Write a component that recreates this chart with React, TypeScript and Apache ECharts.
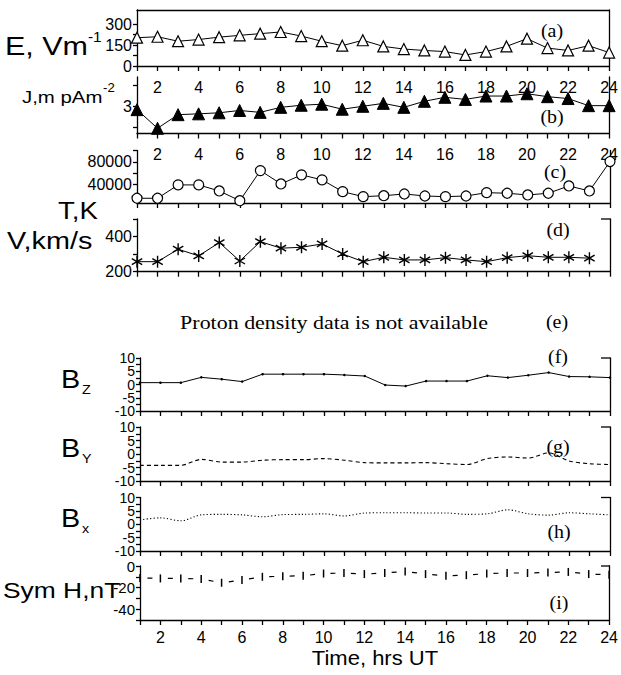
import React, { useEffect, useRef } from "react";
import * as echarts from "echarts";

// ---------- data ----------
const HOURS = [1, 2, 3, 4, 5, 6, 7, 8, 9, 10, 11, 12, 13, 14, 15, 16, 17, 18, 19, 20, 21, 22, 23, 24];
const HOUR_LABELS = [2, 4, 6, 8, 10, 12, 14, 16, 18, 20, 22, 24];

const E_VALUES = [202, 209, 177, 189, 206, 219, 231, 243, 214, 177, 145, 184, 140, 121, 111, 103, 79, 103, 140, 195, 128, 111, 145, 96];
const J_VALUES = [2.84, 1.95, 2.6, 2.64, 2.69, 2.8, 2.71, 2.95, 3.05, 3.1, 2.86, 3.0, 3.14, 2.95, 3.24, 3.43, 3.33, 3.49, 3.49, 3.6, 3.46, 3.37, 3.03, 3.03];
const T_VALUES = [16300, 16300, 39700, 39700, 29100, 12050, 64800, 41400, 57300, 48500, 27900, 19100, 20800, 23800, 20300, 19100, 20300, 26100, 25100, 22100, 25100, 37900, 29100, 80650];
const V_VALUES = [257, 257, 328, 290, 366, 261, 371, 334, 339, 358, 301, 257, 282, 267, 267, 280, 267, 257, 280, 291, 282, 282, 277];
const BZ_VALUES = [0.7, 0.7, 0.7, 2.7, 2.0, 1.1, 3.9, 3.9, 3.9, 3.9, 3.6, 3.2, -0.2, -0.6, 1.3, 1.3, 1.3, 3.3, 2.6, 3.5, 4.5, 3.0, 2.9, 2.6];
const BY_VALUES = [-4.2, -4.2, -4.2, -2.0, -3.0, -3.0, -2.3, -2.1, -2.1, -1.7, -2.3, -3.2, -3.3, -3.3, -3.2, -3.6, -3.9, -1.7, -1.1, -1.5, 0.4, -2.6, -3.6, -3.9];
const BX_VALUES = [1.6, 2.4, 1.3, 3.5, 3.7, 3.5, 2.8, 3.6, 3.7, 3.9, 3.1, 4.2, 4.3, 4.3, 4.2, 4.2, 3.7, 3.9, 5.4, 3.9, 3.4, 4.3, 3.9, 3.5];
const SYMH_VALUES = [-11, -11.5, -11.5, -12, -15.5, -13, -10, -9.5, -9, -7, -6.5, -7.5, -6.5, -5, -7.5, -9, -8.5, -7, -6.5, -6.5, -6, -5.5, -7.5, -8];

// tick marks and tick labels
const E_TICKS = [0, 75, 150, 225, 300];
const E_LABELS = [0, 150, 300];
const J_TICKS = [2, 3, 4];
const J_LABELS = [3];
const T_TICKS = [20000, 40000, 60000, 80000, 100000];
const T_LABELS = [40000, 80000];
const V_TICKS = [200, 300, 400, 500];
const V_LABELS = [200, 400];
const B_TICKS = [-10, -7.5, -5, -2.5, 0, 2.5, 5, 7.5, 10];
const B_LABELS = [-10, 0, 10];
const B_LABELS_MID = [-5, 5];
const SYM_TICKS = [0, -10, -20, -30, -40, -50];
const SYM_LABELS = [0, -20, -40];

// ---------- styling ----------
const BLACK = "#000";
const SANS = '"Liberation Sans", Arial, sans-serif';
const SERIF = '"Liberation Serif", "Times New Roman", serif';
const RIGHT = 11;

type Panel = {
  left: number; top: number; height: number; min: number; max: number;
  ticks: number[]; labels: number[]; extraLabels: number[] | null; xLabels: boolean; xMargin: number;
  topLine: boolean; hook: boolean; labelSize: number;
};

const PANELS: Panel[] = [
  { left: 137, top: 10, height: 56, min: 0, max: 400, ticks: E_TICKS, labels: E_LABELS, extraLabels: null, xLabels: true, xMargin: 13, topLine: true, hook: false, labelSize: 16 },
  { left: 137, top: 77, height: 56.5, min: 1.7, max: 4.4, ticks: J_TICKS, labels: J_LABELS, extraLabels: null, xLabels: true, xMargin: 13, topLine: false, hook: false, labelSize: 16 },
  { left: 137, top: 150.5, height: 52.5, min: 8000, max: 100000, ticks: T_TICKS, labels: T_LABELS, extraLabels: null, xLabels: false, xMargin: 10, topLine: false, hook: false, labelSize: 16 },
  { left: 137, top: 219, height: 52.7, min: 200, max: 500, ticks: V_TICKS, labels: V_LABELS, extraLabels: null, xLabels: false, xMargin: 10, topLine: false, hook: true, labelSize: 16 },
  { left: 140, top: 358, height: 53, min: -10, max: 10, ticks: B_TICKS, labels: B_LABELS, extraLabels: B_LABELS_MID, xLabels: false, xMargin: 10, topLine: false, hook: true, labelSize: 14 },
  { left: 140, top: 427, height: 54, min: -10, max: 10, ticks: B_TICKS, labels: B_LABELS, extraLabels: B_LABELS_MID, xLabels: false, xMargin: 10, topLine: false, hook: true, labelSize: 14 },
  { left: 140, top: 497.5, height: 53.5, min: -10, max: 10, ticks: B_TICKS, labels: B_LABELS, extraLabels: B_LABELS_MID, xLabels: false, xMargin: 10, topLine: false, hook: true, labelSize: 14 },
  { left: 140, top: 566, height: 54, min: -50, max: 0, ticks: SYM_TICKS, labels: SYM_LABELS, extraLabels: null, xLabels: true, xMargin: 9, topLine: false, hook: true, labelSize: 15 },
];

const lineStyleAxis = { color: BLACK, width: 1.3 };

function pts(vals: number[]) {
  return vals.map((v, i) => [HOURS[i], v]);
}

function plain(v: number) {
  return String(v);
}

function txt(text: string, x: number, y: number, size: number, family: string, sx = 1, align = "left") {
  return {
    type: "text",
    x,
    y,
    scaleX: sx,
    z: 20,
    style: {
      text,
      font: `${size}px ${family}`,
      fill: BLACK,
      textAlign: align,
      textVerticalAlign: "middle",
    },
  };
}

function labelCfg(values: number[], size: number) {
  return {
    show: true, customValues: values, interval: 0, color: BLACK, fontSize: size, lineHeight: 12,
    fontFamily: SANS, margin: 5, formatter: plain, showMinLabel: true, showMaxLabel: true, hideOverlap: false,
  };
}

function buildOption() {
  const grid: any[] = [];
  const xAxis: any[] = [];
  const yAxis: any[] = [];
  const xIdx: number[] = [];
  const yIdx: number[] = [];
  const graphic: any[] = [];

  PANELS.forEach((p, gi) => {
    grid.push({ left: p.left, right: RIGHT, top: p.top, height: p.height });
    xIdx.push(xAxis.length);
    xAxis.push({
      gridIndex: gi, type: "value", min: 1, max: 24, interval: 1, position: "bottom",
      axisLine: { show: true, onZero: false, lineStyle: lineStyleAxis },
      axisTick: { show: true, inside: false, length: 5, lineStyle: lineStyleAxis },
      axisLabel: {
        show: p.xLabels, customValues: HOUR_LABELS, interval: 0, color: BLACK, fontSize: 16, fontFamily: SANS,
        margin: p.xMargin, formatter: plain, showMinLabel: true, showMaxLabel: true, hideOverlap: false,
      },
      splitLine: { show: false },
    });
    if (p.topLine) {
      xAxis.push({
        gridIndex: gi, type: "value", min: 1, max: 24, position: "top",
        axisLine: { show: true, onZero: false, lineStyle: lineStyleAxis },
        axisTick: { show: false }, axisLabel: { show: false }, splitLine: { show: false },
      });
    }
    yIdx.push(yAxis.length);
    yAxis.push({
      gridIndex: gi, type: "value", min: p.min, max: p.max, position: "left",
      axisLine: { show: true, onZero: false, lineStyle: lineStyleAxis },
      axisTick: { show: true, inside: false, length: 4, customValues: p.ticks, lineStyle: lineStyleAxis },
      axisLabel: labelCfg(p.labels, p.labelSize),
      splitLine: { show: false },
    });
    if (p.extraLabels) {
      yAxis.push({
        gridIndex: gi, type: "value", min: p.min, max: p.max, position: "left", offset: 0,
        axisLine: { show: false, onZero: false },
        axisTick: { show: false },
        axisLabel: labelCfg(p.extraLabels, p.labelSize),
        splitLine: { show: false },
      });
    }
    yAxis.push({
      gridIndex: gi, type: "value", min: p.min, max: p.max, position: "right",
      axisLine: { show: true, onZero: false, lineStyle: lineStyleAxis },
      axisTick: { show: false }, axisLabel: { show: false }, splitLine: { show: false },
    });
    if (p.hook) {
      graphic.push({
        type: "line", z: 20,
        shape: { x1: 601, y1: p.top, x2: 621 - RIGHT, y2: p.top },
        style: { stroke: BLACK, lineWidth: 1.3 },
      });
    }
  });

  const base = (gi: number) => ({
    type: "line",
    xAxisIndex: xIdx[gi],
    yAxisIndex: yIdx[gi],
    emphasis: { disabled: true },
    silent: true,
    clip: false,
  });

  const hourPx = (621 - RIGHT - 140) / 23;

  const series: any[] = [
    {
      ...base(0), data: pts(E_VALUES), symbol: "triangle", symbolSize: 11,
      itemStyle: { color: "#fff", borderColor: BLACK, borderWidth: 1.2 },
      lineStyle: { color: BLACK, width: 1 },
    },
    {
      ...base(1), data: pts(J_VALUES), symbol: "triangle", symbolSize: 12,
      itemStyle: { color: BLACK, borderColor: BLACK, borderWidth: 1 },
      lineStyle: { color: BLACK, width: 1 },
    },
    {
      ...base(2), data: pts(T_VALUES), symbol: "circle", symbolSize: 10,
      itemStyle: { color: "#fff", borderColor: BLACK, borderWidth: 1.2 },
      lineStyle: { color: BLACK, width: 1 },
    },
    {
      ...base(3), data: pts(V_VALUES), symbol: "path://M6,0L6,12M0.8,3L11.2,9M0.8,9L11.2,3", symbolSize: 12,
      symbolKeepAspect: true,
      itemStyle: { color: "rgba(0,0,0,0)", borderColor: BLACK, borderWidth: 1.4 },
      lineStyle: { color: BLACK, width: 1 },
    },
    {
      ...base(4), data: pts(BZ_VALUES), symbol: "circle", symbolSize: 2.5,
      itemStyle: { color: BLACK },
      lineStyle: { color: BLACK, width: 1 },
    },
    {
      ...base(5), data: pts(BY_VALUES), showSymbol: false, smooth: 0.3,
      lineStyle: { color: BLACK, width: 1.1, type: [4, 3] },
    },
    {
      ...base(6), data: pts(BX_VALUES), showSymbol: false, smooth: 0.3,
      lineStyle: { color: BLACK, width: 1.1, type: [1.2, 2.2] },
    },
    {
      ...base(7), data: pts(SYMH_VALUES), symbol: "rect", symbolSize: [1.5, 8],
      itemStyle: { color: BLACK },
      lineStyle: { color: BLACK, width: 1.2, type: [5, hourPx - 5], dashOffset: hourPx - 7.7 },
    },
  ];

  // axis titles
  graphic.push(txt("E, Vm", 5, 46, 25, SANS, 1.22));
  graphic.push(txt("-1", 88, 37, 14, SANS, 1.1));
  graphic.push(txt("J,m pAm", 22, 97, 17, SANS, 1.2));
  graphic.push(txt("-2", 103, 88, 12, SANS, 1.1));
  graphic.push(txt("T,K", 58, 211, 23, SANS, 1.2));
  graphic.push(txt("V,km/s", 7, 241, 24, SANS, 1.2));
  graphic.push(txt("B", 61, 380, 25, SANS, 1.15));
  graphic.push(txt("Z", 82, 390, 13, SANS, 1.1));
  graphic.push(txt("B", 61, 449, 25, SANS, 1.15));
  graphic.push(txt("Y", 82, 459, 13, SANS, 1.1));
  graphic.push(txt("B", 61, 519, 25, SANS, 1.15));
  graphic.push(txt("x", 82, 529, 13, SANS, 1.1));
  graphic.push(txt("Sym H,nT", 3, 590, 22, SANS, 1.2));
  graphic.push(txt("Time, hrs UT", 375, 658, 20, SANS, 1.1, "center"));
  graphic.push(txt("Proton density data is not available", 334, 323, 18, SERIF, 1.22, "center"));

  // panel letters
  const letters: [string, number, number][] = [
    ["(a)", 552, 31], ["(b)", 552, 117], ["(c)", 555, 172], ["(d)", 558, 230],
    ["(e)", 557, 322], ["(f)", 558, 357], ["(g)", 558, 447], ["(h)", 559, 532], ["(i)", 559, 603],
  ];
  letters.forEach(([t, x, y]) => graphic.push(txt(t, x, y, 19, SERIF, 1.05, "center")));

  return {
    animation: false,
    backgroundColor: "#fff",
    grid,
    xAxis,
    yAxis,
    series,
    graphic,
  };
}

export default function App() {
  const ref = useRef<HTMLDivElement>(null);
  useEffect(() => {
    if (!ref.current) return;
    const chart = echarts.init(ref.current, null, { renderer: "svg" });
    chart.setOption(buildOption() as any);
    return () => chart.dispose();
  }, []);
  return (
    <div
      ref={ref}
      style={{ position: "fixed", left: 0, top: 0, width: 621, height: 675, background: "#fff" }}
    />
  );
}
